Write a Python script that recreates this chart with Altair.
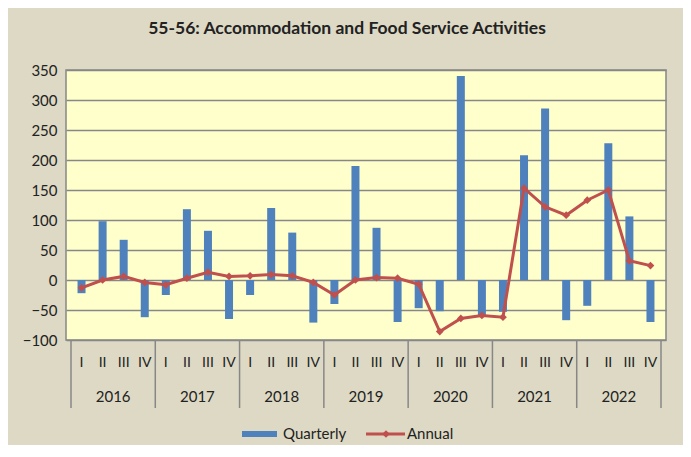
import altair as alt
import pandas as pd

quarters = ["I", "II", "III", "IV"]
years = ["2016", "2017", "2018", "2019", "2020", "2021", "2022"]
quarterly = [-22, 98, 67, -62,
             -25, 118, 82, -65,
             -25, 120, 79, -71,
             -40, 190, 87, -70,
             -47, -52, 340, -60,
             -53, 208, 286, -67,
             -43, 228, 106, -70]
annual = [-13, 0, 6, -4,
          -8, 3, 13, 6,
          7, 9, 7, -4,
          -25, 0, 4, 3,
          -7, -86, -64, -59,
          -62, 153, 122, 108,
          133, 150, 32, 24]
y_ticks = [-100, -50, 0, 50, 100, 150, 200, 250, 300, 350]

n = len(quarterly)
df = pd.DataFrame({
    "idx": list(range(n)),
    "q": [quarters[i % 4] for i in range(n)],
    "year": [years[i // 4] for i in range(n)],
    "Quarterly": quarterly,
    "Annual": annual,
})
yr_df = pd.DataFrame({"year": years, "mid": [4 * i + 1.5 for i in range(len(years))]})
sep_df = pd.DataFrame({"b": [4 * i - 0.5 for i in range(len(years) + 1)]})

FONT = "Lato"
BLUE = "#4F81BD"
RED = "#C0504D"
GRID = "#878787"
TXT = "#222222"

xscale = alt.Scale(domain=[-0.5, n - 0.5], nice=False, zero=False)
yscale = alt.Scale(domain=[-100, 350], nice=False)
yaxis = alt.Axis(values=y_ticks, ticks=False, domain=False,
                 grid=True, gridColor=GRID, gridWidth=1.5, gridOpacity=1,
                 labelFontSize=15, labelFont=FONT, labelColor=TXT,
                 labelPadding=9, labelOverlap=False)

x = alt.X("idx:Q", scale=xscale, axis=None)

bars = alt.Chart(df).mark_bar(size=8, color=BLUE).encode(
    x=x,
    y=alt.Y("Quarterly:Q", scale=yscale, title=None, axis=yaxis),
)

line = alt.Chart(df).mark_line(
    color=RED, strokeWidth=3,
    point=alt.OverlayMarkDef(shape="diamond", size=60, color=RED, filled=True),
).encode(x=x, y=alt.Y("Annual:Q", scale=yscale, title=None, axis=yaxis))

qlab = alt.Chart(df).mark_text(fontSize=14, font=FONT, fill=TXT, baseline="middle").encode(
    x=x, y=alt.value(293), text="q:N")

ylab = alt.Chart(yr_df).mark_text(fontSize=15, font=FONT, fill=TXT, baseline="middle").encode(
    x=alt.X("mid:Q", scale=xscale, axis=None), y=alt.value(327), text="year:N")

seps = alt.Chart(sep_df).mark_rule(color=GRID, strokeWidth=1.5).encode(
    x=alt.X("b:Q", scale=xscale, axis=None), y=alt.value(270), y2=alt.value(338))

leg_q = pd.DataFrame({"label": ["Quarterly"]})
leg_a = pd.DataFrame({"label": ["Annual"]})

leg_rect = alt.Chart(leg_q).mark_rect(color=BLUE).encode(
    x=alt.value(176), x2=alt.value(211), y=alt.value(361), y2=alt.value(367))
leg_qt = alt.Chart(leg_q).mark_text(fontSize=15, font=FONT, fill=TXT, align="left",
                                    baseline="middle").encode(
    x=alt.value(217), y=alt.value(364), text="label:N")
leg_line = alt.Chart(leg_a).mark_rule(color=RED, strokeWidth=3).encode(
    x=alt.value(300), x2=alt.value(339), y=alt.value(364))
leg_pt = alt.Chart(leg_a).mark_point(shape="diamond", size=60, color=RED, filled=True,
                                     opacity=1).encode(
    x=alt.value(320), y=alt.value(364))
leg_at = alt.Chart(leg_a).mark_text(fontSize=15, font=FONT, fill=TXT, align="left",
                                    baseline="middle").encode(
    x=alt.value(341), y=alt.value(364), text="label:N")

chart = alt.layer(
    bars, line, qlab, ylab, seps, leg_rect, leg_qt, leg_line, leg_pt, leg_at
).properties(
    width=600, height=270,
    title=alt.TitleParams("55-56: Accommodation and  Food Service Activities",
                          fontSize=17.5, font=FONT, fontWeight="bold", color=TXT,
                          anchor="middle", offset=26, dx=-19),
    autosize=alt.AutoSizeParams(type="none"),
    padding={"left": 58, "top": 62, "right": 17, "bottom": 105},
    background="#DDD9C4",
).configure_view(
    fill="#FFFFCC", stroke=GRID, strokeWidth=1.5
)

chart.save("out.html", embed_options={"renderer": "svg", "actions": False})
